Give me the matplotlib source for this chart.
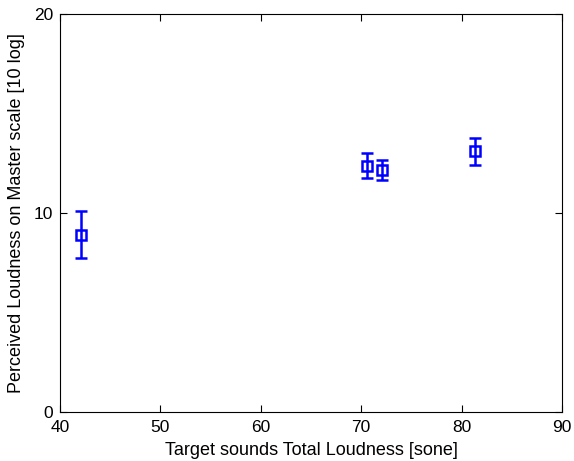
import numpy as np
import matplotlib.pyplot as plt

plt.rcParams['font.family'] = ['Liberation Sans', 'DejaVu Sans']

# Data
loudness_sone = [42.1, 70.6, 72.1, 81.3]
perceived = [8.9, 12.37, 12.19, 13.13]
err_low = [7.75, 11.75, 11.66, 12.43]
err_high = [10.08, 13.02, 12.66, 13.78]

x_ticks = [40, 50, 60, 70, 80, 90]
y_ticks = [0, 10, 20]

perceived = np.array(perceived)
yerr = [perceived - np.array(err_low), np.array(err_high) - perceived]

fig = plt.figure(figsize=(5.74, 4.61), dpi=100)
ax = fig.add_axes([60 / 574, 49.5 / 461, 502 / 574, 397 / 461])

ax.errorbar(loudness_sone, perceived, yerr=yerr, fmt='s', color='#0000ff',
            markerfacecolor='none', markeredgewidth=1.8, markersize=7,
            elinewidth=1.8, capsize=4, capthick=1.8)

ax.set_xlim(40, 90)
ax.set_ylim(0, 20)
ax.set_xticks(x_ticks)
ax.set_yticks(y_ticks)
ax.tick_params(direction='in', top=True, right=True, labelsize=12.5, length=5)
ax.tick_params(axis='x', pad=6)
ax.tick_params(axis='y', pad=5)
ax.set_xlabel('Target sounds Total Loudness [sone]', fontsize=13, labelpad=5)
ax.set_ylabel('Perceived Loudness on Master scale [10 log]', fontsize=13, labelpad=6)

fig.savefig('out.png', dpi=100)
